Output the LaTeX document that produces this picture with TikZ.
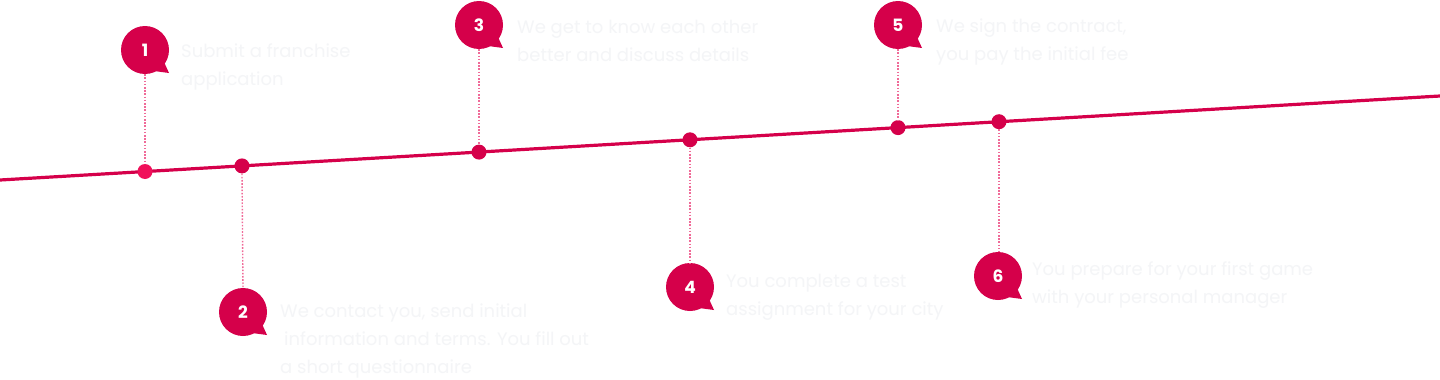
\documentclass[tikz,border=0pt]{standalone}
\usepackage{fontspec}
\setmainfont{Poppins}
\definecolor{crimson}{HTML}{D5004A}
\definecolor{brightpink}{HTML}{F0105A}
\definecolor{dotpink}{HTML}{F06A98}
\definecolor{faint}{HTML}{F4F5F7}
\tikzset{
  mainline/.style={draw=crimson, line width=3.2pt},
  dot/.style={circle, fill=crimson, minimum size=15pt, inner sep=0pt},
  bubble/.style={circle, fill=crimson, minimum size=48pt, inner sep=0pt, text=white, font=\bfseries\fontsize{17}{19}\selectfont},
  conn/.style={draw=dotpink, line width=1.4pt, dash pattern=on 1.6pt off 1.6pt},
  txt/.style={anchor=base west, inner sep=0pt, align=left, text=faint, font=\fontsize{18}{28}\selectfont},
}
\newcommand{\bubbletail}[1]{\fill[crimson] (#1.center) ++(19,12) -- ++(5,11) -- ++(-15,-2) -- cycle;}
\begin{document}
\begin{tikzpicture}[x=1pt,y=-1pt]
\fill[white] (0,0) rectangle (1440,380);
\useasboundingbox (0,0) rectangle (1440,380);
\coordinate (L) at (0,180);
\coordinate (R) at (1440,96);
\draw[mainline] (L) -- (R);

% bubbles
\node[bubble] (b1) at (145,50) {1};
\node[bubble] (b2) at (243,312) {2};
\node[bubble] (b3) at (479,25) {3};
\node[bubble] (b4) at (690,287) {4};
\node[bubble] (b5) at (898,25) {5};
\node[bubble] (b6) at (998,276) {6};
\bubbletail{b1}\bubbletail{b2}\bubbletail{b3}\bubbletail{b4}\bubbletail{b5}\bubbletail{b6}

% dots on the line
\node[dot, fill=brightpink] (d1) at (145,171.5) {};
\node[dot] (d2) at (242,165.9) {};
\node[dot] (d3) at (479,152.1) {};
\node[dot] (d4) at (690,139.8) {};
\node[dot] (d5) at (898,127.6) {};
\node[dot] (d6) at (999,121.7) {};

% dotted connectors
\draw[conn] (b1.south) -- (d1.north);
\draw[conn] (d2.south) -- (b2.north);
\draw[conn] (b3.south) -- (d3.north);
\draw[conn] (d4.south) -- (b4.north);
\draw[conn] (b5.south) -- (d5.north);
\draw[conn] (d6.south) -- (d6 |- b6.north);

% texts (anchored at the baseline of the last line)
\node[txt] (t1) at (181,85) {Submit a franchise\\application};
\node[txt] (t2) at (280,373) {We contact you, send initial\\\hspace{4pt}information and terms. You fill out\\a short questionnaire};
\node[txt] (t3) at (517,61) {We get to know each other\\better and discuss details};
\node[txt] (t4) at (726,315) {You complete a test\\assignment for your city};
\node[txt] (t5) at (936,60) {We sign the contract,\\you pay the initial fee};
\node[txt] (t6) at (1032,303) {You prepare for your first game\\with your personal manager};
\end{tikzpicture}
\end{document}
